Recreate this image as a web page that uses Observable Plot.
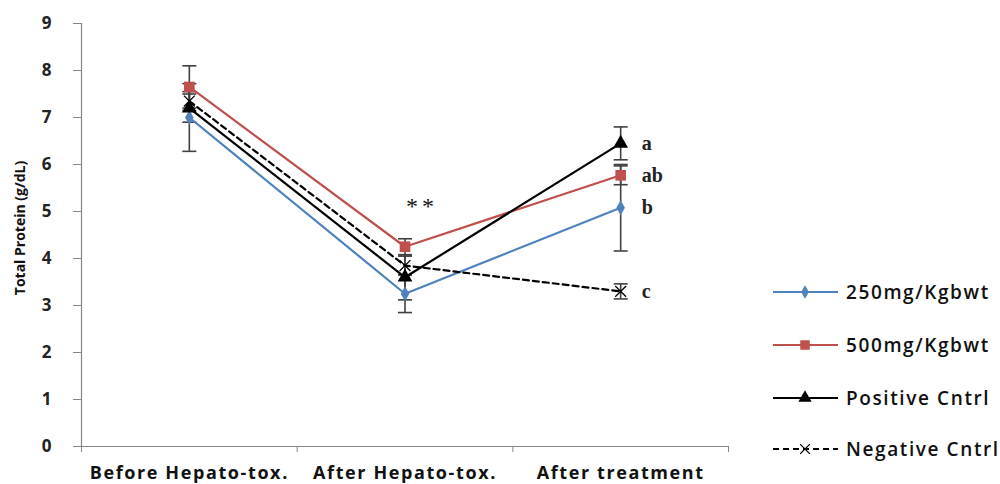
<!DOCTYPE html>
<html><head><meta charset="utf-8">
<script src="https://cdn.jsdelivr.net/npm/d3@7"></script>
<script src="https://cdn.jsdelivr.net/npm/@observablehq/plot@0.6"></script>
<style>
body{margin:0;background:#fff;}
#wrap{position:relative;width:1000px;height:484px;overflow:hidden;}
#legend{position:absolute;left:770px;top:0;}
</style>
</head><body><div id="wrap"></div>
<script>
const categories = ["Before Hepato-tox.", "After Hepato-tox.", "After treatment"];
const seriesNames = ["250mg/Kgbwt", "500mg/Kgbwt", "Positive Cntrl", "Negative Cntrl"];
const values250 = [7.0, 3.25, 5.08];
const err250 = [0.72, 0.40, 0.92];
const values500 = [7.65, 4.25, 5.77];
const err500 = [0.45, 0.17, 0.20];
const valuesPos = [7.2, 3.6, 6.45];
const errPos = [0.30, 0.48, 0.35];
const valuesNeg = [7.35, 3.85, 3.3];
const errNeg = [0.20, 0.20, 0.16];
const sigLetters = ["b", "ab", "a", "c"]; // After treatment, per series
const starLabel = "**";
const starValue = 5.1;
const yTicks = [0, 1, 2, 3, 4, 5, 6, 7, 8, 9];

const seriesColors = ["#4f81bd", "#c0504d", "#000000", "#000000"];
const seriesSymbols = ["diamond", "square", "triangle", "times"];
const seriesDash = [null, null, null, "6,4"];
const seriesR = [4.5, 6, 5.5, 5];

const allValues = [values250, values500, valuesPos, valuesNeg];
const allErr = [err250, err500, errPos, errNeg];
const rows = [];
seriesNames.forEach((s, k) => {
  categories.forEach((c, i) => {
    rows.push({series: s, k, cat: c, x: i + 0.5, y: allValues[k][i],
      lo: allValues[k][i] - allErr[k][i], hi: allValues[k][i] + allErr[k][i]});
  });
});
const capSymbol = {draw(ctx, size){ const r = Math.sqrt(size/Math.PI); ctx.moveTo(-r,0); ctx.lineTo(r,0); }};
const errColor = "#404040";
const axisColor = "#868686";
const font = "'Open Sans', sans-serif";

const marks = [
  Plot.ruleY([0], {stroke: axisColor, strokeWidth: 1.2}),
  Plot.ruleX([0], {stroke: axisColor, strokeWidth: 1.2}),
  Plot.axisY({ticks: yTicks, tickSize: 8, tickPadding: 22, stroke: axisColor, label: null,
    fontSize: 17, fontWeight: 700, fill: "#222"}),
  Plot.axisX({ticks: d3.range(categories.length + 1), tickSize: 6, tickFormat: () => "", stroke: axisColor, label: null}),
  Plot.axisX({ticks: categories.map((c, i) => i + 0.5), tickSize: 0, tickPadding: 20,
    tickFormat: (d) => categories[Math.floor(d)], label: null, fontSize: 18, fontWeight: 700, fill: "#111",
    className: "xcat"}),
  Plot.text(["Total Protein (g/dL)"], {frameAnchor: "left", textAnchor: "middle", rotate: -90, dx: -61, dy: -7,
    fontSize: 14, fontWeight: 700, fill: "#111"}),
  Plot.ruleX(rows, {x: "x", y1: "lo", y2: "hi", stroke: errColor, strokeWidth: 1.6}),
  Plot.dot(rows, {x: "x", y: "lo", symbol: capSymbol, r: 7, stroke: errColor, strokeWidth: 1.6}),
  Plot.dot(rows, {x: "x", y: "hi", symbol: capSymbol, r: 7, stroke: errColor, strokeWidth: 1.6}),
];
seriesNames.forEach((s, k) => {
  const d = rows.filter(r => r.k === k);
  marks.push(Plot.line(d, {x: "x", y: "y", stroke: seriesColors[k], strokeWidth: 2.2,
    strokeDasharray: seriesDash[k]}));
});
seriesNames.forEach((s, k) => {
  const d = rows.filter(r => r.k === k);
  const stroky = seriesSymbols[k] === "times";
  marks.push(Plot.dot(d, {x: "x", y: "y", symbol: seriesSymbols[k], r: seriesR[k],
    fill: stroky ? "none" : seriesColors[k], stroke: stroky ? seriesColors[k] : "none", strokeWidth: 1.3}));
});
const lastIdx = categories.length - 1;
const letterRows = seriesNames.map((s, k) => ({x: lastIdx + 0.5, y: allValues[k][lastIdx], t: sigLetters[k]}));
marks.push(Plot.text(letterRows, {x: "x", y: "y", text: "t", textAnchor: "start", dx: 21,
  fontFamily: "'Liberation Serif', serif", fontSize: 20, fontWeight: 700, fill: "#222"}));
marks.push(Plot.text([{x: 1.5, y: starValue, t: starLabel}], {x: "x", y: "y", text: "t", dx: 17,
  fontFamily: "'Liberation Serif', serif", fontSize: 24, fill: "#111", className: "stars"}));

const chart = Plot.plot({
  width: 1000, height: 484,
  marginLeft: 81, marginRight: 272, marginTop: 23, marginBottom: 38,
  x: {type: "linear", domain: [0, categories.length], axis: null},
  y: {domain: [0, 9], axis: null},
  style: {fontFamily: font, background: "#fff", overflow: "visible"},
  marks
});
d3.select(chart).selectAll(".xcat text").attr("letter-spacing", "1.6px");
d3.select(chart).selectAll(".stars text").attr("letter-spacing", "4px");
const wrap = document.getElementById("wrap");
wrap.appendChild(chart);

// legend
const legendY = [292, 345, 398, 449];
const leg = d3.select(wrap).append("svg").attr("id", "legend")
  .attr("width", 230).attr("height", 484)
  .style("font-family", font);
seriesNames.forEach((s, k) => {
  const g = leg.append("g").attr("transform", `translate(0,${legendY[k]})`);
  g.append("line").attr("x1", 3).attr("x2", 68).attr("y1", 0).attr("y2", 0)
    .attr("stroke", seriesColors[k]).attr("stroke-width", 2.2)
    .attr("stroke-dasharray", seriesDash[k]);
  const sym = {diamond: d3.symbolDiamond, square: d3.symbolSquare, triangle: d3.symbolTriangle, times: d3.symbolTimes}[seriesSymbols[k]];
  const stroky = seriesSymbols[k] === "times";
  g.append("path").attr("transform", "translate(35,0)")
    .attr("d", d3.symbol(sym, Math.PI * seriesR[k] * seriesR[k] * 0.8)())
    .attr("fill", stroky ? "none" : seriesColors[k])
    .attr("stroke", stroky ? seriesColors[k] : "none").attr("stroke-width", 1.3);
  g.append("text").attr("x", 76).attr("y", 0).attr("dy", "0.35em")
    .attr("font-size", 19).attr("font-weight", 600).attr("letter-spacing", "1.6px")
    .attr("fill", "#111").text(s);
});
</script>
</body></html>
